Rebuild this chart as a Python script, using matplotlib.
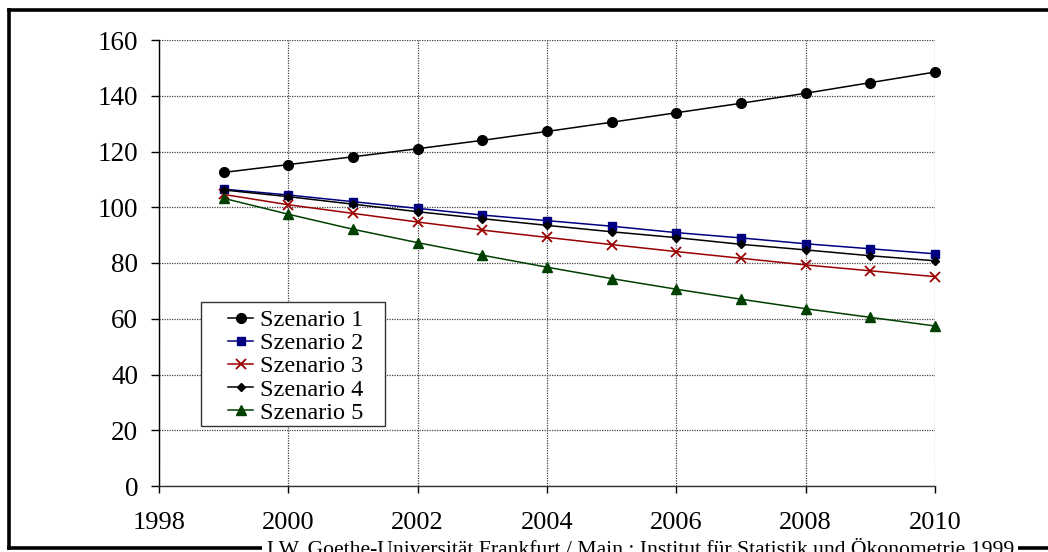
import matplotlib
matplotlib.use("Agg")
import matplotlib.pyplot as plt
from matplotlib.lines import Line2D
from matplotlib.patches import Rectangle

plt.rcParams['font.family'] = ['Liberation Serif', 'DejaVu Serif']

years = [1999, 2000, 2001, 2002, 2003, 2004, 2005, 2006, 2007, 2008, 2009, 2010]
szenario_1 = [112.5, 115.3, 118.1, 121.0, 124.0, 127.2, 130.5, 133.9, 137.3, 140.9, 144.7, 148.5]
szenario_2 = [106.5, 104.4, 102.0, 99.6, 97.2, 95.2, 93.2, 90.9, 89.0, 86.9, 85.1, 83.3]
szenario_3 = [104.6, 100.9, 97.8, 94.7, 91.8, 89.2, 86.6, 84.1, 81.7, 79.3, 77.2, 75.1]
szenario_4 = [106.2, 103.8, 101.1, 98.4, 95.9, 93.5, 91.2, 89.1, 86.7, 84.7, 82.6, 80.8]
szenario_5 = [103.2, 97.5, 92.1, 87.3, 82.8, 78.5, 74.4, 70.6, 67.0, 63.6, 60.5, 57.4]

series_names = ["Szenario 1", "Szenario 2", "Szenario 3", "Szenario 4", "Szenario 5"]
x_ticks = [1998, 2000, 2002, 2004, 2006, 2008, 2010]
y_ticks = [0, 20, 40, 60, 80, 100, 120, 140, 160]
footer = "J.W. Goethe-Universität Frankfurt / Main : Institut für Statistik und Ökonometrie 1999"

W, H = 1048, 552
fig = plt.figure(figsize=(W / 100, H / 100), dpi=100)
fig.patch.set_facecolor("white")

AX_L, AX_R, AX_T, AX_B = 159, 935, 40, 486
ax = fig.add_axes([AX_L / W, 1 - AX_B / H, (AX_R - AX_L) / W, (AX_B - AX_T) / H])


def ax_x(px):
    return (px - AX_L) / (AX_R - AX_L)


def ax_y(py):
    return (AX_B - py) / (AX_B - AX_T)


styles = [
    dict(color="black", marker="o", markersize=7),
    dict(color="#000080", marker="s", markersize=5.8),
    dict(color="#990000", marker="x", markersize=6.5, markeredgewidth=1.3),
    dict(color="black", marker="D", markersize=4.4),
    dict(color="#004000", marker="^", markersize=6.8),
]
for name, vals, st in zip(series_names, [szenario_1, szenario_2, szenario_3, szenario_4, szenario_5], styles):
    ax.plot(years, vals, linewidth=1.1, label=name, clip_on=False, zorder=3, **st)

ax.set_xlim(1998, 2010)
ax.set_ylim(0, 160)
ax.set_xticks(x_ticks)
ax.set_yticks(y_ticks)

ax.grid(True, linestyle=(0, (1, 1)), color="#444444", linewidth=0.9)
ax.set_axisbelow(True)
for side in ("top", "right"):
    ax.spines[side].set_visible(False)
ax.spines["left"].set_linewidth(1.0)
ax.spines["bottom"].set_linewidth(1.0)
ax.spines["bottom"].set_color("#333333")

ax.tick_params(axis="y", direction="out", length=6, width=1, labelsize=19.5, pad=9)
ax.tick_params(axis="x", direction="out", length=5, width=1, labelsize=19, pad=14)

# legend box drawn separately so its inner margins can be set freely
ax.add_patch(Rectangle((ax_x(201), ax_y(426)), ax_x(385) - ax_x(201), ax_y(302) - ax_y(426),
                       transform=ax.transAxes, facecolor="white", edgecolor="#333333",
                       linewidth=1.0, zorder=4))
leg = ax.legend(loc="upper left", bbox_to_anchor=(ax_x(228), ax_y(309)),
                fontsize=17.5, frameon=False, handlelength=1.03, handletextpad=0.3,
                borderpad=0.0, labelspacing=0.05, borderaxespad=0.0)
leg.set_zorder(5)

# outer frame of the page
frame_kw = dict(color="black", linewidth=2.6, transform=fig.transFigure, solid_capstyle="projecting")
fig.add_artist(Line2D([9 / W, 9 / W], [1 - 10 / H, 1 - 548 / H], **frame_kw))
fig.add_artist(Line2D([9 / W, 1.01], [1 - 10 / H, 1 - 10 / H], **frame_kw))
fig.add_artist(Line2D([9 / W, 1.01], [1 - 548 / H, 1 - 548 / H], **frame_kw))

fig.text(640 / W, 1 - 555 / H, footer, ha="center", va="baseline", fontsize=15.6,
         bbox=dict(facecolor="white", edgecolor="none", pad=2.5))

fig.savefig("out.png", dpi=100, facecolor="white")
